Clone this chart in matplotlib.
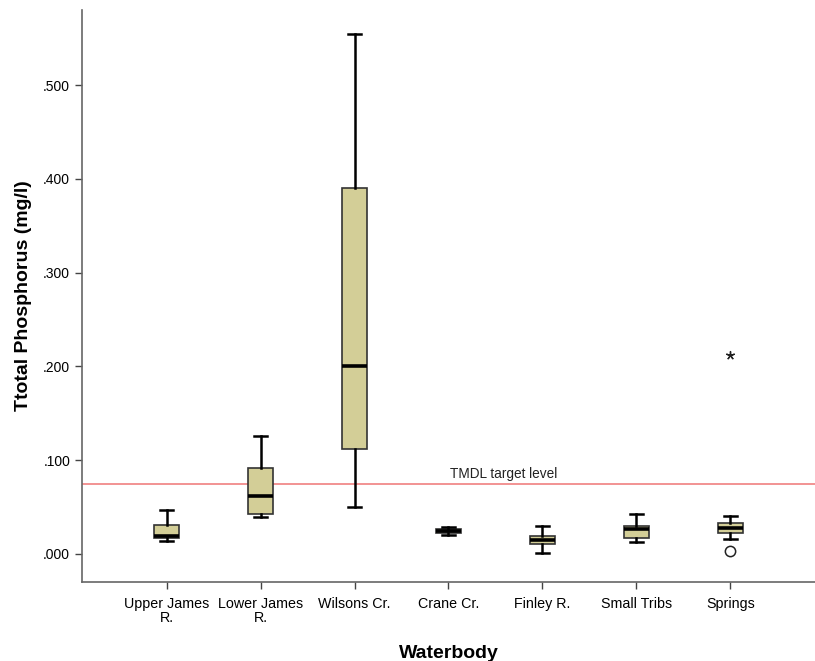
import matplotlib
matplotlib.use("Agg")
import matplotlib.pyplot as plt

categories = ["Upper James\nR.", "Lower James\nR.", "Wilsons Cr.", "Crane Cr.",
              "Finley R.", "Small Tribs", "Springs"]
whisker_low = [0.014, 0.039, 0.050, 0.020, 0.001, 0.013, 0.016]
q1 = [0.017, 0.042, 0.112, 0.022, 0.010, 0.017, 0.022]
median = [0.019, 0.062, 0.200, 0.0245, 0.015, 0.027, 0.028]
q3 = [0.031, 0.092, 0.390, 0.027, 0.019, 0.030, 0.033]
whisker_high = [0.047, 0.126, 0.554, 0.029, 0.030, 0.043, 0.040]
outliers_circle = {"Springs": [0.003]}
outliers_star = {"Springs": [0.212]}
target_level = 0.075
yticks = [0.0, 0.1, 0.2, 0.3, 0.4, 0.5]
ytick_labels = [".000", ".100", ".200", ".300", ".400", ".500"]

plt.rcParams['font.family'] = ['Liberation Sans', 'DejaVu Sans']

fig = plt.figure(figsize=(8.15, 6.61), dpi=100)
ax = fig.add_axes([82/815, 1-582/661, 1-82/815, (582-10)/661])

stats = []
for i, c in enumerate(categories):
    stats.append(dict(med=median[i], q1=q1[i], q3=q3[i],
                      whislo=whisker_low[i], whishi=whisker_high[i], fliers=[]))
positions = list(range(1, len(categories)+1))
ax.bxp(stats, positions=positions, widths=0.26, patch_artist=True, showfliers=False,
       boxprops=dict(facecolor="#D3CE97", edgecolor="#333333", linewidth=1.2),
       medianprops=dict(color="black", linewidth=2.6),
       whiskerprops=dict(color="black", linewidth=1.8),
       capprops=dict(color="black", linewidth=1.8), capwidths=0.13)

for i, c in enumerate(categories):
    for k, v in outliers_circle.items():
        if k == c:
            ax.scatter([positions[i]]*len(v), v, s=55, facecolors="white",
                       edgecolors="#222222", linewidths=1.1, zorder=5)
    for k, v in outliers_star.items():
        if k == c:
            ax.scatter([positions[i]]*len(v), v, s=32, marker=(5, 2, 0),
                       color="#222222", linewidths=1.0, zorder=5)

ax.axhline(target_level, color="#F08080", linewidth=1.2, zorder=1)
ax.text(4.585, target_level + 0.003, "TMDL target level", fontsize=9.8,
        ha="center", va="bottom", color="#222222")

ax.set_xlim(0.1, 7.9)
ax.set_ylim(-0.030, 0.580)
ax.set_xticks(positions)
ax.set_xticklabels(categories, fontsize=10.3, linespacing=1.0)
ax.set_yticks(yticks)
ax.set_yticklabels(ytick_labels, fontsize=10)
ax.tick_params(axis="both", direction="out", length=5, width=1, color="#444444")
ax.tick_params(axis="x", pad=6)

for s in ["top", "right"]:
    ax.spines[s].set_visible(False)
for s in ["left", "bottom"]:
    ax.spines[s].set_color("#666666")
    ax.spines[s].set_linewidth(1.2)

ax.set_ylabel("Ttotal Phosphorus (mg/l)", fontsize=14, fontweight="bold", labelpad=8)
ax.set_xlabel("Waterbody", fontsize=14, fontweight="bold", labelpad=14)

fig.savefig("out.png", dpi=100)
